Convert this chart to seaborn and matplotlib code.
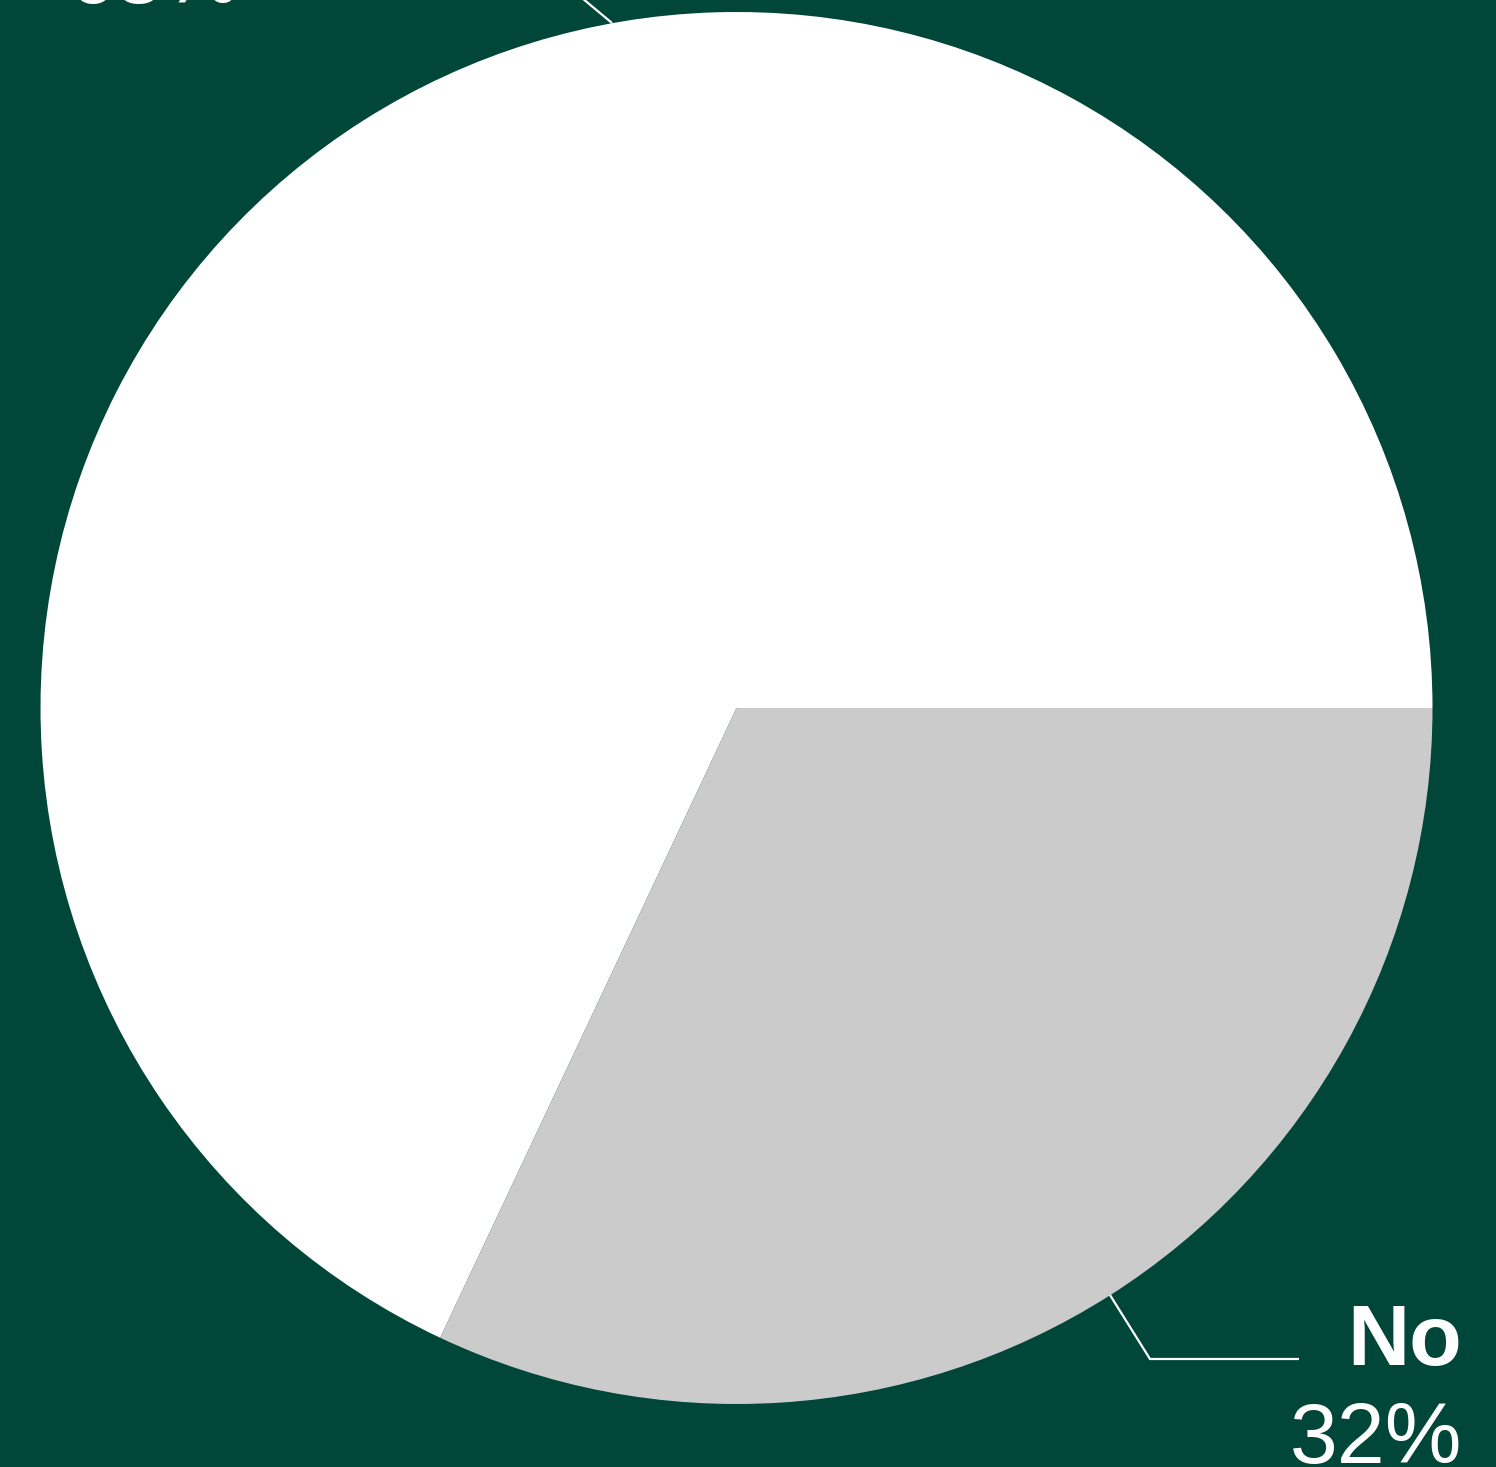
import matplotlib
matplotlib.use("Agg")
import matplotlib.pyplot as plt
import seaborn as sns

# ---- data ----
categories = ["Yes", "No"]
shares = [68, 32]
pct_labels = ["68%", "32%"]

# ---- style ----
BG = "#00473A"
COLORS = ["#FFFFFF", "#CBCBCB"]
W, H = 1496, 1467

sns.set_theme(style="white")
plt.rcParams["font.family"] = ["Liberation Sans", "DejaVu Sans"]

fig = plt.figure(figsize=(W / 100, H / 100), dpi=100, facecolor=BG)
ax = fig.add_axes([0, 0, 1, 1])
ax.set_facecolor(BG)

cx, cy, r = 736.5, 708, 696
ax.pie(shares, colors=COLORS, startangle=0, counterclock=False,
       center=(cx, cy), radius=r, frame=True,
       wedgeprops=dict(linewidth=0, antialiased=True))

ax.set_xlim(0, W)
ax.set_ylim(H, 0)
ax.set_aspect("equal", adjustable="box")
ax.axis("off")

# ---- leader lines + labels ----
# No
ax.plot([1110, 1150, 1299], [1295, 1359, 1359], color="white", lw=1.6,
        solid_capstyle="butt", solid_joinstyle="miter")
ax.text(1462, 1365, categories[1], ha="right", va="baseline", color="white",
        fontsize=62, fontweight="bold")
ax.text(1462, 1463, pct_labels[1], ha="right", va="baseline", color="white",
        fontsize=62)
# Yes (mostly cut off at the top)
ax.plot([612, 582], [23, -2], color="white", lw=1.6, solid_capstyle="butt")
ax.text(68, -95, categories[0], ha="left", va="baseline", color="white",
        fontsize=62, fontweight="bold")
ax.text(68, 3, pct_labels[0], ha="left", va="baseline", color="white",
        fontsize=62)

fig.savefig("out.png", dpi=100, facecolor=BG)
